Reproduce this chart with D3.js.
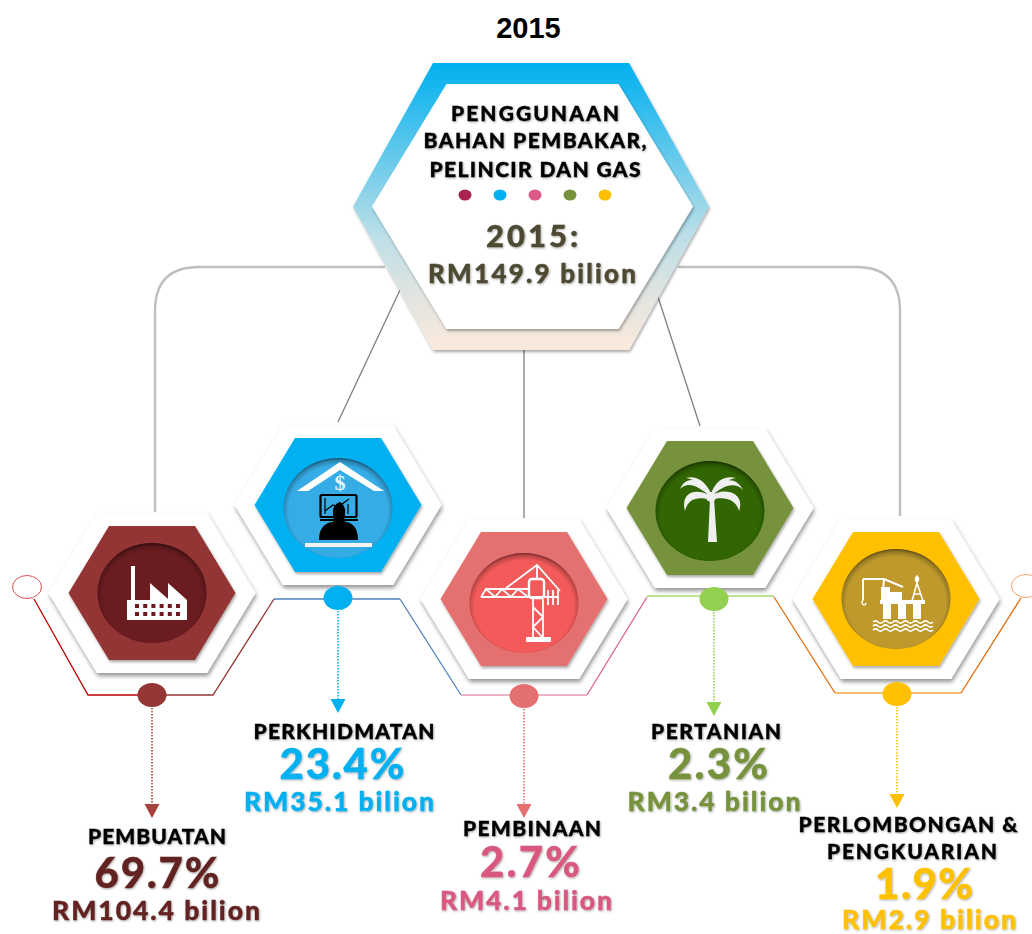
<!DOCTYPE html>
<html>
<head>
<meta charset="utf-8">
<style>
  html, body { margin: 0; padding: 0; background: #fff; }
  svg { display: block; }
  text { font-family: Lato, "Noto Sans", sans-serif; font-weight: 900; text-anchor: middle; }
</style>
<script src="https://cdn.jsdelivr.net/npm/d3@7/dist/d3.min.js"></script>
</head>
<body>
<script>
// chart values
var year = "2015";
var totalAmount = 149.9;
var titleLines = ["PENGGUNAAN", "BAHAN PEMBAKAR,", "PELINCIR DAN GAS"];
var sectors = ["PEMBUATAN", "PERKHIDMATAN", "PEMBINAAN", "PERTANIAN", "PERLOMBONGAN & PENGKUARIAN"];
var shares = [69.7, 23.4, 2.7, 2.3, 1.9];
var amounts = [104.4, 35.1, 4.1, 3.4, 2.9];

// colours per sector
var hexColours = ["#943634", "#00b0f0", "#e46f70", "#76923c", "#ffc000"];
var discColours = ["#6b1c20", "#36ace6", "#f35b5a", "#316602", "#bf992c"];
var textColours = ["#632423", "#00b0f0", "#d9597f", "#76923c", "#ffc000"];
var arrowColours = ["#a5403a", "#00b0f0", "#e66f6f", "#92d050", "#ffc000"];
var bulletColours = ["#a8234f", "#00b0f0", "#dd5a84", "#76923c", "#ffc000"];

var width = 1032, height = 934;

// layout
var x = d3.scalePoint().domain(sectors).range([152, 896]);
var hexY = [593, 505, 599, 508, 599];
var discDy = [0, 3, 4, 3, 0];
var dotX = [152, 338, 524, 714, 897];
var dotY = [695, 598, 696, 599, 694];
var arrowTop = [708, 611, 709, 612, 707];
var arrowEnd = [818, 713, 818, 716, 808];
// [line, centre x, baseline, width]
var nameRows = [
    [["PEMBUATAN", 157, 844, 138]],
    [["PERKHIDMATAN", 344, 739, 181]],
    [["PEMBINAAN", 532, 836, 138]],
    [["PERTANIAN", 716, 739, 130]],
    [["PERLOMBONGAN &", 908, 832, 219], ["PENGKUARIAN", 912, 859, 170]]
];
var shareRows = [[157, 888, 125], [342, 779, 125], [530, 877, 100], [718, 779, 100], [924, 899, 98]];
var amountRows = [[156, 920, 208], [339, 811, 190], [526, 910, 172], [714, 811, 173], [929, 929, 174]];

var svg = d3.select("body").append("svg")
    .attr("width", width)
    .attr("height", height);

var defs = svg.append("defs");

function shadow(id, dx, dy, blur, opacity) {
    defs.append("filter")
        .attr("id", id)
        .attr("x", "-20%").attr("y", "-20%")
        .attr("width", "140%").attr("height", "140%")
        .append("feDropShadow")
        .attr("dx", dx).attr("dy", dy)
        .attr("stdDeviation", blur)
        .attr("flood-color", "#000")
        .attr("flood-opacity", opacity);
}
shadow("plate", 1, 3, 2, 0.42);
shadow("soft", 1, 2, 1.5, 0.35);
shadow("label", 0.8, 1, 0.8, 0.35);

// central hexagon gradient
var centreGrad = defs.append("linearGradient")
    .attr("id", "centreGrad")
    .attr("x1", 0).attr("y1", 0).attr("x2", 0).attr("y2", 1);
[[0, "#00b0f0"], [0.35, "#6ccbeb"], [0.6, "#bcdfe8"], [0.8, "#dfe4e0"], [1, "#fbe9dc"]].forEach(function(s) {
    centreGrad.append("stop").attr("offset", s[0]).attr("stop-color", s[1]);
});

// inner rim on the round discs
var rim = defs.append("radialGradient")
    .attr("id", "rim")
    .attr("cx", "50%").attr("cy", "53%").attr("r", "53%");
[[0.86, 0], [0.95, 0.22], [1, 0.55]].forEach(function(s) {
    rim.append("stop").attr("offset", s[0]).attr("stop-color", "#000").attr("stop-opacity", s[1]);
});

var line = d3.line();

function hexagon(cx, cy, halfW, halfTop, halfH) {
    return line([
        [cx - halfTop, cy - halfH], [cx + halfTop, cy - halfH], [cx + halfW, cy],
        [cx + halfTop, cy + halfH], [cx - halfTop, cy + halfH], [cx - halfW, cy]
    ]) + "Z";
}

// grey connectors from the middle hexagon
var connectors = svg.append("g").attr("fill", "none");
connectors.append("path")
    .attr("d", "M155,512V311Q155,267 199,267H385")
    .attr("stroke", "#bfbfbf").attr("stroke-width", 2.4);
connectors.append("path")
    .attr("d", "M900,516V311Q900,267 856,267H678")
    .attr("stroke", "#bfbfbf").attr("stroke-width", 2.4);
[[[400, 290], [338, 422]], [[524, 345], [524, 518]], [[658, 297], [700, 426]]].forEach(function(seg) {
    connectors.append("path")
        .attr("d", line(seg))
        .attr("stroke", "#808080").attr("stroke-width", 1.3);
});

// middle hexagon
svg.append("path")
    .attr("d", hexagon(531, 206.5, 178, 98, 143.5))
    .attr("fill", "url(#centreGrad)")
    .attr("filter", "url(#soft)");
svg.append("path")
    .attr("d", hexagon(532.5, 206.5, 160.5, 86, 122.5))
    .attr("fill", "#fff")
    .attr("filter", "url(#soft)");

function label(parent, str, cx, base, size, w, fill) {
    return parent.append("text")
        .attr("x", cx).attr("y", base)
        .attr("font-size", size)
        .attr("textLength", w)
        .attr("lengthAdjust", "spacing")
        .attr("fill", fill)
        .attr("stroke", fill)
        .attr("stroke-width", 0.35)
        .attr("filter", "url(#label)")
        .text(str);
}

svg.append("text")
    .attr("x", 528.5).attr("y", 38)
    .attr("font-size", 29)
    .style("font-family", "'Liberation Sans', Arial, sans-serif")
    .style("font-weight", 700)
    .attr("fill", "#000")
    .text(year);

var titleBase = [121, 148, 177];
var titleWidth = [168, 223, 211];
titleLines.forEach(function(t, i) {
    label(svg, t, 535, titleBase[i], 21, titleWidth[i], "#000");
});

var bulletX = d3.scalePoint().domain(sectors).range([465, 605]);
svg.selectAll("ellipse.bullet")
    .data(sectors)
    .enter().append("ellipse")
    .attr("class", "bullet")
    .attr("cx", function(d) { return bulletX(d); })
    .attr("cy", 195)
    .attr("rx", 6.5).attr("ry", 5.5)
    .attr("fill", function(d, i) { return bulletColours[i]; });

label(svg, year + ":", 532, 247, 31, 92, "#4d4a32");
label(svg, "RM" + totalAmount + " bilion", 532, 283, 26, 208, "#4d4a32");

// timeline running under the hexagons
var links = [
    [[[34, 599], [88, 695], [152, 695]], "#c00000"],
    [[[152, 695], [213, 695], [274, 599]], "#943634"],
    [[[274, 599], [400, 599]], "#4f81bd"],
    [[[400, 599], [461, 695]], "#4f81bd"],
    [[[461, 695], [587, 695]], "#e69ab5"],
    [[[587, 695], [647, 597]], "#d9628c"],
    [[[647, 596], [774, 596]], "#a6d96f"],
    [[[774, 597], [835, 693]], "#e36c0a"],
    [[[835, 693], [961, 693]], "#f6a836"],
    [[[961, 693], [1021, 598]], "#e36c0a"]
];
svg.append("g").attr("fill", "none").attr("stroke-width", 1.3)
    .selectAll("path")
    .data(links)
    .enter().append("path")
    .attr("d", function(d) { return line(d[0]); })
    .attr("stroke", function(d) { return d[1]; });

svg.append("ellipse")
    .attr("cx", 27).attr("cy", 587).attr("rx", 14.5).attr("ry", 11.5)
    .attr("fill", "#fff").attr("stroke", "#d9534f").attr("stroke-width", 1);
svg.append("ellipse")
    .attr("cx", 1026).attr("cy", 586).attr("rx", 14.5).attr("ry", 11.5)
    .attr("fill", "#fff").attr("stroke", "#f0a070").attr("stroke-width", 1);

// icons, drawn round the disc centre
function factory(g) {
    g.append("path").attr("fill", "#fff")
        .attr("d", "M-25,27V7H-21V-27H-17V7H-2V-10L16,6V-10L35,7V27Z");
    d3.range(6).forEach(function(c) {
        [0, 1].forEach(function(r) {
            g.append("rect")
                .attr("x", -17 + c * 8.2).attr("y", 11 + r * 8)
                .attr("width", 4).attr("height", 4)
                .attr("fill", "#6b1c20");
        });
    });
}

function office(g) {
    g.append("path").attr("fill", "#fff")
        .attr("d", "M-41,-17L2,-46L46,-17L36,-17L2,-38L-30,-17Z");
    g.append("text")
        .attr("x", 2).attr("y", -18)
        .attr("font-size", 22)
        .style("font-family", "'Liberation Serif', serif")
        .style("font-weight", 700)
        .attr("fill", "#e8f5fb")
        .text("$");
    g.append("rect")
        .attr("x", -17.5).attr("y", -13).attr("width", 36).attr("height", 22)
        .attr("rx", 1.5).attr("fill", "none").attr("stroke", "#000").attr("stroke-width", 2.2);
    g.append("path").attr("fill", "none").attr("stroke", "#000").attr("stroke-width", 1.2)
        .attr("d", "M-13,-10V6M-13,3L-5,-3L0,-1L11,-9M10,-4V6");
    g.append("rect").attr("x", -18).attr("y", 11).attr("width", 38).attr("height", 2).attr("fill", "#000");
    g.append("path").attr("fill", "#000")
        .attr("d", "M-5,6C-6,-2 -1,-5 2,-6C5,-4 8,-1 7,6C7,10 5,13 8,14C15,15 20,20 20,32H-19C-19,20 -13,15 -6,14C-3,13 -5,10 -5,6Z");
    g.append("rect").attr("x", -33).attr("y", 35).attr("width", 67).attr("height", 4).attr("fill", "#f4f4f4");
}

function crane(g) {
    var s = g.append("g").attr("fill", "none").attr("stroke", "#fff").attr("stroke-width", 1.8);
    s.append("path").attr("d", "M-43,-6H34M-38,-14H6M-43,-6L-38,-14L-29,-6L-22,-14L-13,-6L-6,-14L4,-6");
    s.append("path").attr("d", "M-18,-15L13,-38L36,-12M13,-38V-24");
    s.append("path").attr("d", "M9,-4V35M19,-4V35M9,4L19,14L9,24L19,35");
    s.append("path").attr("d", "M24,-13V2M29,-13V2M34,-13V2");
    g.append("rect").attr("x", 5).attr("y", -24).attr("width", 15).attr("height", 19)
        .attr("rx", 3).attr("fill", "none").attr("stroke", "#fff").attr("stroke-width", 2.4);
    g.append("rect").attr("x", 2).attr("y", 34).attr("width", 25).attr("height", 5)
        .attr("rx", 1).attr("fill", "#fff");
}

function palm(g) {
    g.append("path").attr("fill", "#f0f0f0")
        .attr("d", "M4,-12L7,31H-2L0,-12Z"
            + "M1,-18C-10,-33 -24,-36 -30,-22C-22,-30 -12,-25 1,-14Z"
            + "M1,-15C-14,-24 -30,-19 -25,0C-22,-13 -12,-15 1,-11Z"
            + "M0,-20C-6,-31 -15,-36 -24,-33C-14,-31 -8,-27 0,-16Z"
            + "M1,-18C10,-33 26,-36 33,-21C24,-30 12,-25 1,-14Z"
            + "M1,-15C12,-24 36,-20 29,0C26,-13 12,-15 1,-11Z"
            + "M2,-20C7,-31 15,-36 26,-33C16,-31 10,-27 2,-16Z");
    g.append("circle").attr("cx", 1).attr("cy", -14).attr("r", 5).attr("fill", "#f0f0f0");
}

function rig(g) {
    var w = "#fff";
    g.append("path").attr("fill", "none").attr("stroke", w).attr("stroke-width", 2)
        .attr("d", "M-33,-20H-12L7,-12M-33,-20V1M-12,-20L-13,-8");
    g.append("path").attr("fill", "none").attr("stroke", w).attr("stroke-width", 1.3)
        .attr("d", "M-33,1C-36,5 -31,8 -30,4");
    g.append("path").attr("fill", w)
        .attr("d", "M-15,-12H-6V-7H6V1H-15Z");
    g.append("path").attr("fill", "none").attr("stroke", w).attr("stroke-width", 1.6)
        .attr("d", "M16,2L21,-16L27,2M18,-5H25");
    g.append("path").attr("fill", w).attr("d", "M21,-24C24,-21 24,-18 21,-16C18,-18 18,-21 21,-24Z");
    g.append("rect").attr("x", -16).attr("y", 1).attr("width", 45).attr("height", 4).attr("fill", w);
    [-13, 2, 17].forEach(function(lx) {
        g.append("rect").attr("x", lx).attr("y", 5).attr("width", 8).attr("height", 15).attr("fill", w);
    });
    [23, 27, 31].forEach(function(wy) {
        var wave = "M-23," + wy;
        d3.range(6).forEach(function() { wave += "q2.5,-2.4 5,0t5,0"; });
        g.append("path").attr("d", wave).attr("fill", "none").attr("stroke", w).attr("stroke-width", 1.7);
    });
}

var icons = [factory, office, crane, palm, rig];

// one group per sector
sectors.forEach(function(s, i) {
    var cx = x(s), cy = hexY[i];
    var g = svg.append("g");

    g.append("path")
        .attr("d", hexagon(cx, cy, 103.5, 55, 80))
        .attr("fill", "#fff")
        .attr("filter", "url(#plate)");
    g.append("path")
        .attr("d", hexagon(cx, cy, 83.5, 43, 67))
        .attr("fill", hexColours[i])
        .attr("filter", "url(#soft)");
    g.append("ellipse")
        .attr("cx", cx).attr("cy", cy + discDy[i])
        .attr("rx", 54.5).attr("ry", 50)
        .attr("fill", discColours[i]);
    g.append("ellipse")
        .attr("cx", cx).attr("cy", cy + discDy[i])
        .attr("rx", 54.5).attr("ry", 50)
        .attr("fill", "url(#rim)");
    icons[i](g.append("g").attr("transform", "translate(" + cx + "," + (cy + discDy[i]) + ")"));

    // dot on the timeline
    g.append("ellipse")
        .attr("cx", dotX[i]).attr("cy", dotY[i])
        .attr("rx", 14.5).attr("ry", 12)
        .attr("fill", i == 3 ? "#92d050" : hexColours[i]);

    // dotted drop with arrow head
    g.append("line")
        .attr("x1", dotX[i]).attr("x2", dotX[i])
        .attr("y1", arrowTop[i]).attr("y2", arrowEnd[i] - 13)
        .attr("stroke", arrowColours[i])
        .attr("stroke-width", 1.6)
        .attr("stroke-dasharray", "1.6 1.4");
    g.append("path")
        .attr("d", line([[dotX[i] - 7.5, arrowEnd[i] - 14], [dotX[i] + 7.5, arrowEnd[i] - 14], [dotX[i], arrowEnd[i]]]) + "Z")
        .attr("fill", arrowColours[i]);

    // texts
    nameRows[i].forEach(function(r) {
        label(svg, r[0], r[1], r[2], 21, r[3], "#000");
    });
    label(svg, shares[i] + "%", shareRows[i][0], shareRows[i][1], 42, shareRows[i][2], textColours[i]);
    label(svg, "RM" + amounts[i] + " bilion", amountRows[i][0], amountRows[i][1], 26.5, amountRows[i][2], textColours[i]);
});
</script>
</body>
</html>
